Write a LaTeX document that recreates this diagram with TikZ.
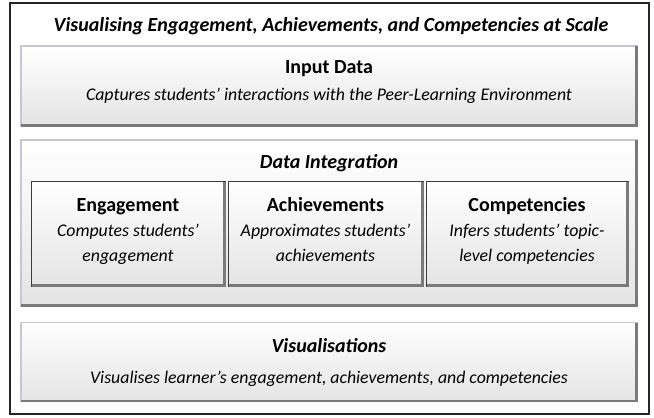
\documentclass[tikz,border=0pt]{standalone}
\usepackage{fontspec}
\setmainfont{Carlito}
\definecolor{rimlight}{HTML}{C8C6D6}
\definecolor{rimdark}{HTML}{3C3C3C}
\definecolor{shadowgray}{HTML}{7A7A7A}
\definecolor{panelfill}{HTML}{E4E4E4}
\begin{document}
\begin{tikzpicture}[x=1pt, y=-1pt,
    panel/.style={rectangle, draw=rimlight, line width=1.6pt, top color=white, bottom color=panelfill},
    subpanel/.style={rectangle, draw=rimdark, line width=1pt, top color=white, bottom color=panelfill},
    shadowline/.style={draw=shadowgray, line width=2.6pt},
    head/.style={anchor=base, font=\fontsize{20}{24}\selectfont\bfseries},
    ihead/.style={anchor=base, font=\fontsize{20}{24}\selectfont\bfseries\itshape},
    caption/.style={anchor=base, font=\fontsize{17.8}{25}\selectfont\itshape, align=center}]
    \useasboundingbox (0,0) rectangle (654,418);

    % Frame and title
    \draw[line width=1.3pt, black!85] (10,3) rectangle (649,414);
    \node[ihead] (title) at (331,31) {Visualising Engagement, Achievements, and Competencies at Scale};

    % Panels
    \node[panel, minimum width=616pt, minimum height=80pt] (input) at (329,86) {};
    \node[panel, minimum width=616pt, minimum height=166pt] (integ) at (329,223) {};
    \node[panel, minimum width=616pt, minimum height=79pt] (visual) at (329,362) {};

    % Sub-panels
    \node[subpanel, minimum width=194pt, minimum height=105pt] (engage) at (128,234) {};
    \node[subpanel, minimum width=195pt, minimum height=105pt] (achieve) at (325.5,234) {};
    \node[subpanel, minimum width=202pt, minimum height=105pt] (compet) at (527,234) {};

    % Shadows on right and bottom edges
    \foreach \p in {input, integ, visual, engage, achieve, compet}
      \draw[shadowline] ([xshift=-1.3pt,yshift=-1pt]\p.north east) -- ([xshift=-1.3pt,yshift=1.3pt]\p.south east) -- ([xshift=1pt,yshift=1.3pt]\p.south west);

    % Text (two-line captions sit on their last baseline)
    \node[head] (inputhead) at (329,73) {Input Data};
    \node[caption] (inputtext) at (329,100) {Captures students’ interactions with the Peer-Learning Environment};
    \node[ihead] (integhead) at (329,168) {Data Integration};
    \node[head] (engagehead) at (128,211) {Engagement};
    \node[caption] (engagetext) at (128,261) {Computes students’\\engagement};
    \node[head] (achievehead) at (325.5,211) {Achievements};
    \node[caption] (achievetext) at (325.5,261) {Approximates students’\\achievements};
    \node[head] (compethead) at (527,211) {Competencies};
    \node[caption] (compettext) at (527,261) {Infers students’ topic-\\level competencies};
    \node[ihead] (visualhead) at (329,352) {Visualisations};
    \node[caption] (visualtext) at (329,383) {Visualises learner’s engagement, achievements, and competencies};
\end{tikzpicture}
\end{document}
